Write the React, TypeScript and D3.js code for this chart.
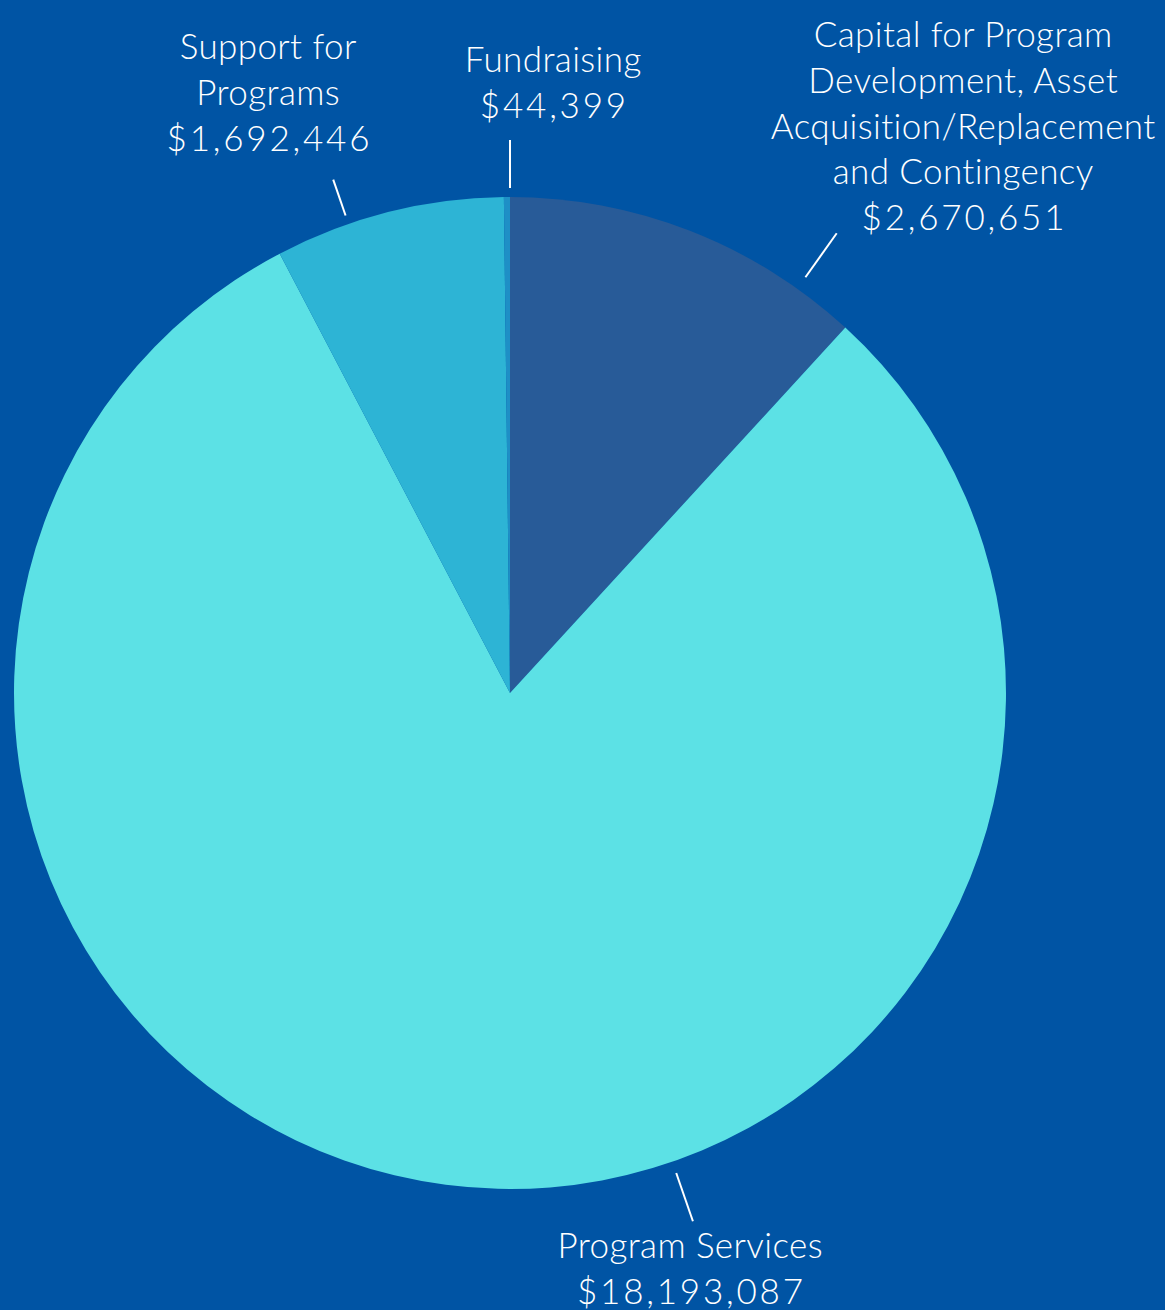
import React from "react";
import * as d3 from "d3";

const categories = [
  "Capital for Program Development, Asset Acquisition/Replacement and Contingency",
  "Program Services",
  "Support for Programs",
  "Fundraising",
];
const values = [2670651, 18193087, 1692446, 44399];
const colors = ["#285b98", "#5ce1e5", "#2db4d5", "#1e8fc6"];

const labelLines = [
  ["Capital for Program", "Development, Asset", "Acquisition/Replacement", "and Contingency", "$2,670,651"],
  ["Program Services", "$18,193,087"],
  ["Support for", "Programs", "$1,692,446"],
  ["Fundraising", "$44,399"],
];

const W = 1165;
const H = 1310;
const cx = 510;
const cy = 693;
const R = 496;

// label layout: text center x, first baseline y, leader line polar (deg, r1, r2)
const labelLayout = [
  { x: 963, y: 47, leader: [35.4, 510, 564] },
  { x: 690, y: 1258, leader: [160.9, 508, 559] },
  { x: 268, y: 59, leader: [341.0, 505, 543] },
  { x: 553, y: 72, leader: [0, 505, 553] },
];
const lineH = 45.8;

export default function App() {
  const pie = d3.pie<number>().sort(null).value((d) => d);
  const arcs = pie(values);
  const arc = d3.arc<d3.PieArcDatum<number>>().innerRadius(0).outerRadius(R);
  const pt = (deg: number, r: number) => {
    const a = (deg * Math.PI) / 180;
    return [cx + r * Math.sin(a), cy - r * Math.cos(a)];
  };
  return (
    <svg
      width={W}
      height={H}
      style={{ position: "absolute", left: 0, top: 0, display: "block" }}
    >
      <rect x={0} y={0} width={W} height={H} fill="#0054a4" />
      <g transform={`translate(${cx},${cy})`}>
        {arcs.map((a, i) => (
          <path key={categories[i]} d={arc(a) || ""} fill={colors[i]} />
        ))}
      </g>
      {labelLayout.map((l, i) => {
        const [x1, y1] = pt(l.leader[0], l.leader[1]);
        const [x2, y2] = pt(l.leader[0], l.leader[2]);
        return (
          <g key={i}>
            <line x1={x1} y1={y1} x2={x2} y2={y2} stroke="#ffffff" strokeWidth={2} />
            <text
              x={l.x}
              y={l.y}
              textAnchor="middle"
              fill="#ffffff"
              fontFamily="Lato, 'Open Sans', sans-serif"
              fontWeight={300}
              fontSize={35}
              style={{ fontVariantLigatures: "none" }}
            >
              {labelLines[i].map((t, j) => {
                const isNum = t.startsWith("$");
                const ls = isNum ? 2.8 : 0.4;
                return (
                  <tspan
                    key={j}
                    x={l.x + ls / 2}
                    y={l.y + j * lineH}
                    letterSpacing={ls}
                  >
                    {t}
                  </tspan>
                );
              })}
            </text>
          </g>
        );
      })}
    </svg>
  );
}
